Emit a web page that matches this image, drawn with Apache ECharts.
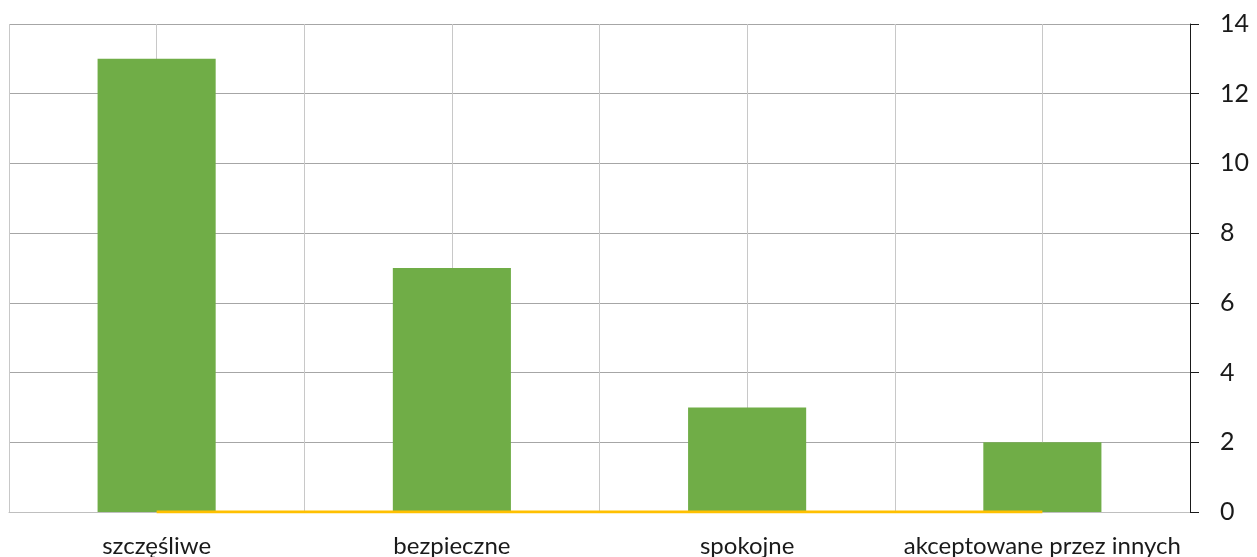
<!DOCTYPE html>
<html>
<head>
<meta charset="utf-8">
<script src="https://cdn.jsdelivr.net/npm/echarts@6/dist/echarts.min.js"></script>
<style>
  html, body { margin: 0; padding: 0; background: #fff; }
  #chart { width: 1257px; height: 557px; }
</style>
</head>
<body>
<div id="chart"></div>
<script>
// kategorie i wartości
const categories = ["szczęśliwe", "bezpieczne", "spokojne", "akceptowane przez innych"];
const barValues = [13, 7, 3, 2];
const lineValues = [0, 0, 0, 0];
const yTicks = { min: 0, max: 14, interval: 2 };

// pomocnicza oś do pionowych linii siatki (granice i środki kategorii)
const halfCells = categories.flatMap(() => ["", ""]);

const chart = echarts.init(document.getElementById("chart"));

const option = {
  animation: false,
  grid: { left: 9, right: 67, top: 24, bottom: 45, outerBoundsMode: "none", containLabel: false },
  xAxis: [
    {
      type: "category",
      data: categories,
      axisLine: { show: true, lineStyle: { color: "#bfbfbf", width: 1 } },
      axisTick: { show: false },
      splitLine: { show: false },
      axisLabel: {
        interval: 0,
        margin: 22,
        fontSize: 24,
        fontFamily: "Lato",
        color: "#1a1a1a",
      },
    },
    {
      type: "category",
      data: halfCells,
      position: "bottom",
      show: true,
      axisLine: { show: false },
      axisTick: { show: false },
      axisLabel: { show: false },
      splitLine: { show: true, interval: 0, lineStyle: { color: "#c8c8c8", width: 1 } },
    },
  ],
  yAxis: {
    type: "value",
    position: "right",
    min: yTicks.min,
    max: yTicks.max,
    interval: yTicks.interval,
    axisLine: { show: true, lineStyle: { color: "#1a1a1a", width: 1 } },
    axisTick: { show: true, inside: false, length: 9, lineStyle: { color: "#1a1a1a" } },
    axisLabel: {
      margin: 30,
      fontSize: 25,
      fontFamily: "Lato",
      color: "#1a1a1a",
    },
    splitLine: { show: true, lineStyle: { color: "#a6a6a6", width: 1 } },
  },
  series: [
    {
      type: "bar",
      data: barValues,
      barWidth: "40%",
      itemStyle: { color: "#70ad47" },
    },
    {
      type: "line",
      data: lineValues,
      symbol: "none",
      lineStyle: { color: "#ffc000", width: 3 },
      z: 5,
    },
  ],
};

chart.setOption(option);
window.addEventListener("resize", () => chart.resize());
</script>
</body>
</html>
